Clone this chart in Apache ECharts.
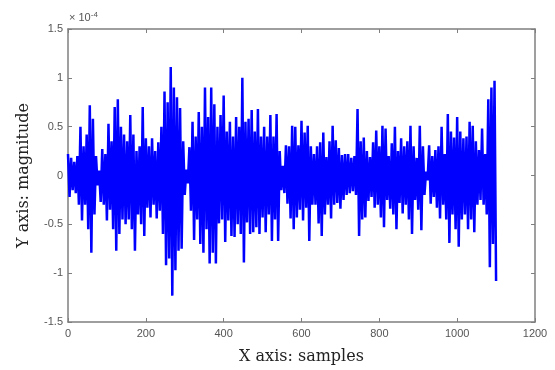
<!DOCTYPE html>
<html>
<head>
<meta charset="utf-8">
<script src="https://cdn.jsdelivr.net/npm/echarts@6/dist/echarts.min.js"></script>
<style>
html,body{margin:0;padding:0;background:#fff;}
#c{width:555px;height:370px;}
</style>
</head>
<body>
<div id="c"></div>
<script>
// Sample step between envelope readings (samples)
var step = 8;
// Upper (positive) excursions read at samples 0, 8, 16, ... (units of 1e-4)
var upperVals = [0.22,0.18,0.14,0.20,0.50,0.30,0.42,0.72,0.58,0.20,
0.05,0.27,0.22,0.53,0.35,0.70,0.78,0.50,0.42,0.35,
0.62,0.42,0.25,0.30,0.70,0.38,0.30,0.38,0.25,0.34,
0.50,0.86,0.75,1.11,0.90,0.80,0.69,0.35,0.06,0.29,
0.55,0.40,0.65,0.50,0.90,0.60,0.90,0.73,0.50,0.62,
0.82,0.45,0.55,0.40,0.60,0.50,1.00,0.55,0.58,0.67,
0.45,0.68,0.40,0.50,0.40,0.62,0.40,0.63,0.25,0.10,
0.31,0.30,0.51,0.50,0.31,0.56,0.44,0.51,0.30,0.22,
0.30,0.34,0.44,0.19,0.35,0.51,0.36,0.28,0.21,0.22,
0.22,0.18,0.20,0.68,0.35,0.39,0.25,0.19,0.34,0.46,
0.30,0.51,0.48,0.20,0.33,0.50,0.25,0.38,0.30,0.35,
0.51,0.30,0.18,0.51,0.30,0.04,0.31,0.20,0.26,0.30,
0.50,0.22,0.63,0.45,0.39,0.60,0.45,0.38,0.40,0.55,
0.51,0.35,0.26,0.48,0.22,0.78,0.90,0.97];
// Lower (negative) excursions read at samples 4, 12, 20, ...
var lowerVals = [-0.22,-0.15,-0.18,-0.30,-0.46,-0.30,-0.55,-0.79,-0.40,-0.10,
-0.27,-0.30,-0.46,-0.35,-0.55,-0.77,-0.60,-0.45,-0.50,-0.45,
-0.55,-0.77,-0.40,-0.50,-0.62,-0.33,-0.43,-0.30,-0.44,-0.36,
-0.60,-0.92,-0.85,-1.23,-0.97,-0.77,-0.75,-0.20,-0.08,-0.36,
-0.66,-0.45,-0.70,-0.79,-0.55,-0.90,-0.79,-0.90,-0.49,-0.45,
-0.68,-0.46,-0.62,-0.63,-0.50,-0.60,-0.89,-0.48,-0.60,-0.58,
-0.53,-0.60,-0.43,-0.58,-0.40,-0.67,-0.45,-0.67,-0.15,-0.18,
-0.29,-0.44,-0.55,-0.43,-0.35,-0.46,-0.33,-0.67,-0.30,-0.30,
-0.49,-0.62,-0.40,-0.30,-0.44,-0.30,-0.28,-0.34,-0.25,-0.20,
-0.18,-0.16,-0.20,-0.62,-0.45,-0.43,-0.26,-0.22,-0.33,-0.30,
-0.43,-0.53,-0.25,-0.34,-0.40,-0.55,-0.28,-0.39,-0.30,-0.45,
-0.60,-0.25,-0.35,-0.56,-0.20,-0.05,-0.29,-0.22,-0.33,-0.44,
-0.30,-0.45,-0.69,-0.40,-0.55,-0.73,-0.45,-0.40,-0.55,-0.45,
-0.58,-0.30,-0.25,-0.30,-0.40,-0.94,-0.70,-1.08];
var xTicks = [0,200,400,600,800,1000,1200];
var yTicks = [-1.5,-1,-0.5,0,0.5,1,1.5];
var xTitle = 'X axis: samples';
var yTitle = 'Y axis: magnitude';

var data = [];
for (var i = 0; i < upperVals.length; i++) {
  data.push([i*step, upperVals[i]]);
  if (i < lowerVals.length) data.push([i*step + step/2, lowerVals[i]]);
}

var axisGray = '#7f7f7f';
var labelStyle = {color:'#555', fontFamily:'Liberation Sans, Arial', fontSize:11};
var chart = echarts.init(document.getElementById('c'), null, {renderer:'canvas'});
chart.setOption({
  animation:false,
  backgroundColor:'#fff',
  grid:{left:68, top:29, right:20, bottom:48},
  xAxis:[{
    type:'value', min:xTicks[0], max:xTicks[xTicks.length-1], interval:200,
    axisLine:{show:true, onZero:false, lineStyle:{color:axisGray, width:1.5}},
    axisTick:{inside:true, length:4, lineStyle:{color:axisGray}},
    axisLabel:Object.assign({margin:6, formatter:function(v){return String(v);}}, labelStyle),
    splitLine:{show:false},
    name:xTitle, nameLocation:'middle', nameGap:27,
    nameTextStyle:{fontFamily:'DejaVu Serif', fontSize:16, color:'#222'}
  },{
    type:'value', position:'top', min:0, max:1200, interval:200,
    axisLine:{show:true, onZero:false, lineStyle:{color:axisGray, width:1.5}},
    axisTick:{inside:true, length:4, lineStyle:{color:axisGray}},
    axisLabel:{show:false}, splitLine:{show:false}
  }],
  yAxis:[{
    type:'value', min:yTicks[0], max:yTicks[yTicks.length-1], interval:0.5,
    axisLine:{show:true, onZero:false, lineStyle:{color:axisGray, width:1.5}},
    axisTick:{inside:true, length:4, lineStyle:{color:axisGray}},
    axisLabel:Object.assign({margin:5}, labelStyle),
    splitLine:{show:false},
    name:yTitle, nameLocation:'middle', nameGap:36, nameRotate:90,
    nameTextStyle:{fontFamily:'DejaVu Serif', fontSize:16, color:'#222'}
  },{
    type:'value', position:'right', min:-1.5, max:1.5, interval:0.5,
    axisLine:{show:true, onZero:false, lineStyle:{color:axisGray, width:1.5}},
    axisTick:{inside:true, length:4, lineStyle:{color:axisGray}},
    axisLabel:{show:false}, splitLine:{show:false}
  }],
  graphic:[{
    type:'text', left:69, top:11,
    style:{
      text:'{a|× 10}{b|-4}',
      rich:{
        a:{fontFamily:'Liberation Sans, Arial', fontSize:11, fill:'#555'},
        b:{fontFamily:'Liberation Sans, Arial', fontSize:8, fill:'#555', verticalAlign:'top', padding:[0,0,6,0]}
      }
    }
  }],
  series:[{
    type:'line', xAxisIndex:0, yAxisIndex:0, data:data, showSymbol:false,
    lineStyle:{color:'#0000ff', width:2.5, join:'bevel'}, itemStyle:{color:'#0000ff'}
  }]
});
</script>
</body>
</html>
